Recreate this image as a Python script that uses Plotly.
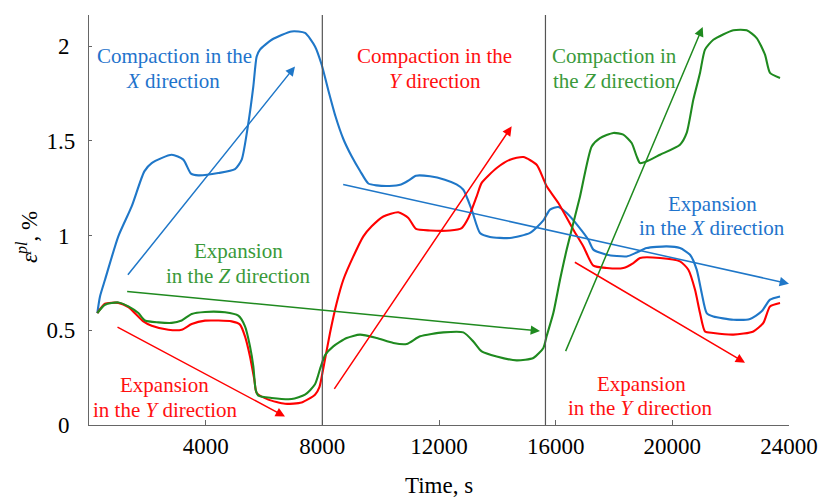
import plotly.graph_objects as go

# ---------------- data ----------------
x_blue = [285, 377, 549, 1005, 1463, 1897, 2149, 2835, 3234, 3497, 3749, 4434, 5006, 5235, 5463,
          5634, 5749, 5863, 6264, 6950, 7406, 7749, 7978, 8200, 8450, 8720, 9000, 9300, 9577,
          9863, 10300, 10700, 10949, 11212, 11692, 12200, 12600, 12835, 13120, 13406, 13749,
          14435, 15120, 15578, 15806, 16092, 16378, 16778, 17120, 17292, 17749, 18435, 18778,
          19120, 19806, 20263, 20606, 20835, 21006, 21178, 21406, 22092, 22663, 23063, 23349, 23692]
y_blue = [0.591, 0.679, 0.767, 0.996, 1.154, 1.339, 1.383, 1.427, 1.401, 1.327, 1.318, 1.330, 1.351,
          1.401, 1.594, 1.788, 1.946, 1.982, 2.034, 2.078, 2.070, 1.999, 1.902, 1.770, 1.630, 1.510,
          1.420, 1.340, 1.275, 1.265, 1.262, 1.270, 1.290, 1.316, 1.313, 1.295, 1.270, 1.242, 1.137,
          1.014, 0.993, 0.987, 1.014, 1.080, 1.137, 1.151, 1.119, 1.049, 0.978, 0.926, 0.899, 0.890,
          0.911, 0.934, 0.943, 0.934, 0.899, 0.820, 0.697, 0.591, 0.573, 0.556, 0.560, 0.600, 0.662,
          0.679]

x_red = [285, 549, 1006, 1349, 1863, 2149, 2720, 3178, 3520, 3977, 4892, 5177, 5349, 5520, 5669,
         5749, 6149, 6720, 7292, 7749, 7900, 8034, 8263, 8492, 8720, 9063, 9406, 9692, 10092,
         10606, 10949, 11212, 11692, 12377, 12778, 13006, 13292, 13463, 13978, 14435, 14892,
         15349, 15578, 15692, 16092, 16606, 16949, 17292, 17749, 18320, 18663, 18892, 19578,
         20263, 20549, 20778, 20949, 21120, 21406, 22092, 22778, 23120, 23349, 23692]
y_red = [0.591, 0.640, 0.645, 0.623, 0.547, 0.524, 0.503, 0.503, 0.533, 0.551, 0.547, 0.530, 0.468,
         0.362, 0.239, 0.169, 0.134, 0.112, 0.119, 0.160, 0.200, 0.300, 0.486, 0.644, 0.767, 0.890,
         0.996, 1.049, 1.101, 1.123, 1.093, 1.035, 1.027, 1.027, 1.040, 1.093, 1.207, 1.278, 1.357,
         1.401, 1.415, 1.374, 1.300, 1.260, 1.172, 1.031, 0.943, 0.841, 0.829, 0.829, 0.855, 0.882,
         0.882, 0.864, 0.820, 0.714, 0.591, 0.494, 0.486, 0.477, 0.494, 0.539, 0.626, 0.644]

x_green = [285, 549, 1006, 1349, 1692, 1920, 2377, 2835, 3178, 3520, 3977, 4663, 5120, 5349, 5520,
           5634, 5714, 5806, 6263, 6949, 7406, 7749, 7950, 8100, 8377, 8835, 9292, 9863, 10435,
           10892, 11349, 12149, 12835, 13177, 13463, 13978, 14663, 15235, 15578, 15692, 15920,
           16149, 16378, 16835, 17235, 17520, 17978, 18320, 18606, 18778, 18892, 19120, 19578,
           20263, 20492, 20720, 20949, 21120, 21406, 22092, 22549, 22892, 23177, 23349, 23692]
y_green = [0.591, 0.635, 0.647, 0.626, 0.591, 0.552, 0.542, 0.539, 0.552, 0.586, 0.597, 0.595,
           0.577, 0.521, 0.415, 0.309, 0.186, 0.155, 0.143, 0.137, 0.160, 0.215, 0.310, 0.370,
           0.415, 0.459, 0.477, 0.459, 0.433, 0.428, 0.468, 0.489, 0.489, 0.441, 0.389, 0.362,
           0.341, 0.354, 0.407, 0.470, 0.591, 0.767, 0.926, 1.207, 1.471, 1.515, 1.542, 1.533,
           1.489, 1.418, 1.383, 1.392, 1.427, 1.480, 1.542, 1.718, 1.859, 1.982, 2.034, 2.084,
           2.084, 2.043, 1.955, 1.859, 1.832]

# trend arrows: (x_start, y_start, x_end, y_end, series)
arrow_x0 = [1292, 8663, 1257, 16320, 926, 8377, 16606]
arrow_y0 = [0.785, 1.272, 0.706, 0.382, 0.521, 0.183, 0.864]
arrow_x1 = [7063, 24000, 15464, 21040, 6720, 14492, 22492]
arrow_y1 = [1.893, 0.746, 0.496, 2.101, 0.045, 1.577, 0.329]
arrow_series = ["X", "X", "Z", "Z", "Y", "Y", "Y"]

phase_bounds = [8000, 15650]

x_ticks = [4000, 8000, 12000, 16000, 20000, 24000]
x_tick_labels = ["4000", "8000", "12000", "16000", "20000", "24000"]
y_ticks = [0, 0.5, 1, 1.5, 2]
y_tick_labels = ["0\u00a0", "0.5", "1\u00a0", "1.5", "2\u00a0"]

# ---------------- style ----------------
LINE = {"X": "#1f77c8", "Y": "#ff0000", "Z": "#1f8a1f"}
TEXT = {"X": "#1f74cc", "Y": "#ff1010", "Z": "#3a9a3a"}
FONT = "Liberation Serif, Times New Roman, serif"

W, H = 826, 498
L, R, T, B = 89, 37, 15, 73
PW, PH = W - L - R, H - T - B
YMAX = 2.1647


def px_to_paper(px, py):
    return (px - L) / PW, (H - B - py) / PH


fig = go.Figure()
for xs, ys, key, name in [(x_blue, y_blue, "X", "X"), (x_red, y_red, "Y", "Y"), (x_green, y_green, "Z", "Z")]:
    fig.add_trace(go.Scatter(x=xs, y=ys, mode="lines", name=name,
                             line=dict(color=LINE[key], width=2.1, shape="spline", smoothing=0.6),
                             showlegend=False, hoverinfo="skip"))

for xb in phase_bounds:
    fig.add_shape(type="line", x0=xb, x1=xb, y0=0, y1=1, xref="x", yref="paper",
                  line=dict(color="#555555", width=1.2))

annotations = []
for x0, y0, x1, y1, s in zip(arrow_x0, arrow_y0, arrow_x1, arrow_y1, arrow_series):
    annotations.append(dict(x=x1, y=y1, ax=x0, ay=y0, xref="x", yref="y", axref="x", ayref="y",
                            text="", showarrow=True, arrowhead=2, arrowsize=1.25, arrowwidth=1.5,
                            arrowcolor=LINE[s], standoff=0, startstandoff=0))

# text lines: (text, center px x, baseline px y, series)
labels = [
    ("Compaction in the", 174, 63.3, "X"),
    ("<i>X</i> direction", 173, 88.3, "X"),
    ("Compaction in the", 434.7, 63.3, "Y"),
    ("<i>Y</i> direction", 435, 88.3, "Y"),
    ("Compaction in", 614, 63.3, "Z"),
    ("the <i>Z</i> direction", 614, 88.3, "Z"),
    ("Expansion", 712, 210.7, "X"),
    ("in the <i>X</i> direction", 712, 235, "X"),
    ("Expansion", 238, 258.3, "Z"),
    ("in the <i>Z</i> direction", 238, 283.3, "Z"),
    ("Expansion", 164.5, 391.7, "Y"),
    ("in the <i>Y</i> direction", 165, 416.7, "Y"),
    ("Expansion", 641, 391.3, "Y"),
    ("in the <i>Y</i> direction", 640.5, 414.7, "Y"),
]
FS = 21
for txt, cx, base, s in labels:
    xp, yp = px_to_paper(cx, base - 0.3375 * FS)
    annotations.append(dict(text=txt, x=xp, y=yp, xref="paper", yref="paper", xanchor="center",
                            yanchor="middle", showarrow=False,
                            font=dict(family=FONT, size=FS, color=TEXT[s])))

# y-axis title
xp, yp = px_to_paper(27, 237)
annotations.append(dict(text="<i>ε</i><sup><i>pl</i></sup>, %", x=xp, y=yp, xref="paper", yref="paper",
                        xanchor="center", yanchor="middle", textangle=-90, showarrow=False,
                        font=dict(family=FONT, size=23, color="black")))

fig.update_layout(
    width=W, height=H,
    margin=dict(l=L, r=R, t=T, b=B, pad=0),
    paper_bgcolor="white", plot_bgcolor="white",
    font=dict(family=FONT, size=23, color="black"),
    annotations=annotations,
    xaxis=dict(range=[0, 24000], tickvals=x_ticks, ticktext=x_tick_labels, ticks="inside", ticklen=5,
               tickcolor="#666666", tickwidth=1, showline=True, linecolor="#666666", linewidth=1.2,
               showgrid=False, zeroline=False, mirror=False,
               title=dict(text="Time, s", standoff=19, font=dict(family=FONT, size=23)),
               automargin=False, tickfont=dict(family=FONT, size=23)),
    yaxis=dict(range=[0, YMAX], tickvals=y_ticks, ticktext=y_tick_labels, ticks="inside", ticklen=3,
               tickcolor="#666666", tickwidth=1, showline=True, linecolor="#666666", linewidth=1.2,
               showgrid=False, zeroline=False, mirror=False, automargin=False,
               tickfont=dict(family=FONT, size=23), ticklabelstandoff=8),
)

fig.write_html("out.html")
